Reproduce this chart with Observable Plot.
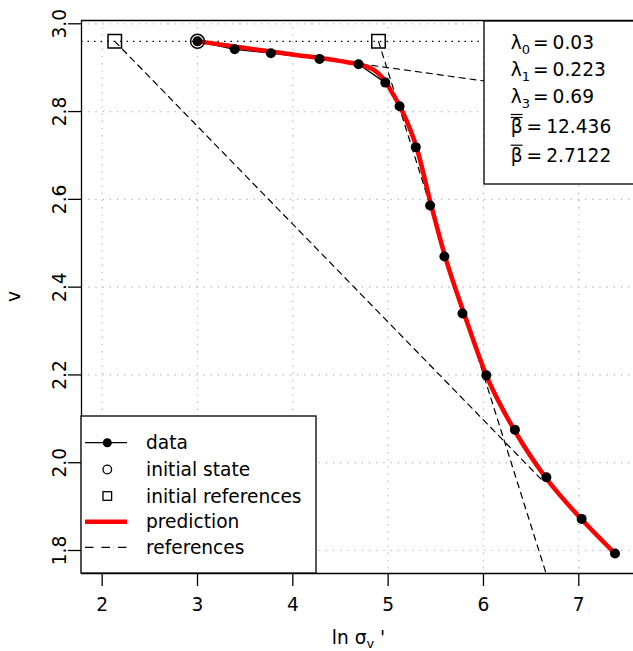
<!DOCTYPE html>
<html>
<head>
<meta charset="utf-8">
<script src="https://cdn.jsdelivr.net/npm/d3@7"></script>
<script src="https://cdn.jsdelivr.net/npm/@observablehq/plot@0.6"></script>
<style>
  html, body { margin: 0; padding: 0; background: #fff; }
  #chart svg { display: block; }
</style>
</head>
<body>
<div id="chart"></div>
<script>
// Measured compression curve: ln of effective vertical stress vs specific volume
const lnSigma = [3.00, 3.39, 3.77, 4.28, 4.69, 4.97, 5.12, 5.29, 5.44, 5.59, 5.78, 6.03, 6.33, 6.66, 7.03, 7.38];
const vData   = [2.960, 2.942, 2.933, 2.920, 2.908, 2.866, 2.812, 2.719, 2.586, 2.470, 2.340, 2.199, 2.075, 1.967, 1.872, 1.793];

// Initial state and the two initial reference points
const initX = [3.00];
const initV = [2.960];
const refPtX = [2.132, 4.899];
const refPtV = [2.960, 2.960];

// Model prediction
const predX = [3.00, 3.50, 4.00, 4.50, 4.70, 4.85, 4.95, 5.05, 5.15, 5.30, 5.45, 5.60, 5.80, 6.03, 6.33, 6.66, 7.03, 7.38];
const predV = [2.960, 2.945, 2.930, 2.915, 2.907, 2.895, 2.875, 2.840, 2.800, 2.717, 2.588, 2.468, 2.338, 2.199, 2.072, 1.964, 1.871, 1.793];

// Reference lines (end points)
const refLineA = {x: [2.132, 6.62], v: [2.960, 1.959]};
const refLineB = {x: [3.00, 7.60], v: [2.960, 2.822]};
const refLineC = {x: [4.899, 6.70], v: [2.960, 1.718]};

// Fitted parameters
const paramSym   = ["λ", "λ", "λ", "β", "β"];
const paramSub   = ["0", "1", "3", "", ""];
const paramBars  = [0, 0, 0, 2, 1];
const paramValue = ["0.03", "0.223", "0.69", "12.436", "2.7122"];

// Legend entries
const legendLabels = ["data", "initial state", "initial references", "prediction", "references"];

// Axis ticks
const xTicks = [2, 3, 4, 5, 6, 7];
const yTicks = [1.8, 2.0, 2.2, 2.4, 2.6, 2.8, 3.0];

(function () {
const FONT = "'DejaVu Sans', sans-serif";
const FS = 18.6;

const pts = lnSigma.map((x, i) => ({x, v: vData[i]}));
const pred = predX.map((x, i) => ({x, v: predV[i]}));
const refs = [refLineA, refLineB, refLineC].flatMap((r, k) => r.x.map((x, i) => ({k, x, v: r.v[i]})));
const init = initX.map((x, i) => ({x, v: initV[i]}));
const refPts = refPtX.map((x, i) => ({x, v: refPtV[i]}));

const xDomain = [1.783, 7.574];
const yDomain = [1.7476, 3.0075];

const chart = Plot.plot({
  width: 633,
  height: 651,
  marginLeft: 81,
  marginRight: 0,
  marginTop: 20,
  marginBottom: 78,
  style: {fontFamily: FONT, fontSize: FS + "px", background: "#fff", color: "#000"},
  x: {domain: xDomain},
  y: {domain: yDomain},
  marks: [
    Plot.gridX(xTicks, {stroke: "#b0b0b0", strokeOpacity: 1, strokeWidth: 1.2, strokeDasharray: "1.2 6"}),
    Plot.gridY(yTicks, {stroke: "#b0b0b0", strokeOpacity: 1, strokeWidth: 1.2, strokeDasharray: "1.2 6"}),
    Plot.ruleY(initV, {stroke: "#000", strokeWidth: 1.2, strokeDasharray: "1.5 5"}),
    Plot.line(refs, {x: "x", y: "v", z: "k", stroke: "#000", strokeWidth: 1.2, strokeDasharray: "6 5", clip: true}),
    Plot.line(pts, {x: "x", y: "v", stroke: "#000", strokeWidth: 1.3}),
    Plot.line(pred, {x: "x", y: "v", stroke: "#ff0000", strokeWidth: 4.5, curve: "monotone-x"}),
    Plot.dot(pts, {x: "x", y: "v", r: 5, fill: "#000"}),
    Plot.dot(init, {x: "x", y: "v", r: 7, stroke: "#000", strokeWidth: 1.5, fill: "none"}),
    Plot.dot(refPts, {x: "x", y: "v", symbol: "square", r: 7.6, stroke: "#000", strokeWidth: 1.5, fill: "none"}),
    Plot.ruleX([xDomain[0]], {stroke: "#000", strokeWidth: 1.3}),
    Plot.ruleY([yDomain[0], yDomain[1]], {stroke: "#000", strokeWidth: 1.3}),
    Plot.axisX(xTicks, {tickSize: 13, tickPadding: 11, strokeWidth: 1.3, fontSize: FS, label: null}),
    Plot.axisY(yTicks, {tickSize: 13, tickPadding: 3, tickRotate: -90, strokeWidth: 1.3, fontSize: FS,
                        tickFormat: d3.format(".1f"), label: null})
  ]
});

document.getElementById("chart").appendChild(chart);

const sx = chart.scale("x"), sy = chart.scale("y");
const fLeft = sx.range[0];
const fTop = sy.range[1], fBottom = sy.range[0];
const svg = d3.select(chart);

// Axis titles
const xt = svg.append("text").attr("font-family", FONT).attr("font-size", FS)
  .attr("text-anchor", "middle").attr("x", (fLeft + 636) / 2).attr("y", 644);
xt.append("tspan").text("ln σ");
xt.append("tspan").attr("font-size", FS * 0.7).attr("dy", 4).text("v");
xt.append("tspan").attr("dy", -4).text(" '");

svg.append("text").attr("font-family", FONT).attr("font-size", FS)
  .attr("text-anchor", "middle")
  .attr("transform", `translate(20,${(fTop + fBottom) / 2}) rotate(-90)`)
  .text("v");

// Parameter box (top right)
const pg = svg.append("g").attr("font-family", FONT).attr("font-size", FS).attr("text-anchor", "start");
pg.append("rect").attr("x", 484).attr("y", fTop + 1).attr("width", 160).attr("height", 163)
  .attr("fill", "#fff").attr("stroke", "#000").attr("stroke-width", 1.3);
const baselines = [49.3, 76, 102.7, 132.7, 161.7];
paramSym.forEach((s, i) => {
  const x0 = 510.7, yb = baselines[i];
  const t = pg.append("text").attr("x", x0).attr("y", yb);
  const symSpan = t.append("tspan").text(s);
  if (paramSub[i]) {
    t.append("tspan").attr("font-size", FS * 0.7).attr("dy", 5).text(paramSub[i]);
    t.append("tspan").attr("dy", -5).attr("dx", 3).text("=");
  } else {
    t.append("tspan").attr("dx", 4).text("=");
  }
  t.append("tspan").attr("dx", 4).text(paramValue[i]);
  const w = symSpan.node().getComputedTextLength();
  const barYs = paramBars[i] === 2 ? [yb - 18.2, yb - 15.2] : paramBars[i] === 1 ? [yb - 16.5] : [];
  barYs.forEach(by => {
    pg.append("line").attr("x1", x0).attr("x2", x0 + w).attr("y1", by).attr("y2", by)
      .attr("stroke", "#000").attr("stroke-width", 1.2);
  });
});

// Legend box (bottom left)
const lg = svg.append("g").attr("font-family", FONT).attr("font-size", FS).attr("text-anchor", "start");
lg.append("rect").attr("x", fLeft).attr("y", 416).attr("width", 235).attr("height", fBottom - 416)
  .attr("fill", "#fff").attr("stroke", "#000").attr("stroke-width", 1.3);
const rowY = [442.7, 469.5, 496, 521.7, 547.3];
const sxL = 85, exL = 127, cxL = 107.3;
lg.append("line").attr("x1", sxL).attr("x2", exL).attr("y1", rowY[0]).attr("y2", rowY[0]).attr("stroke", "#000").attr("stroke-width", 1.3);
lg.append("circle").attr("cx", cxL).attr("cy", rowY[0]).attr("r", 4.5).attr("fill", "#000");
lg.append("circle").attr("cx", cxL).attr("cy", rowY[1]).attr("r", 4.3).attr("fill", "none").attr("stroke", "#000").attr("stroke-width", 1.3);
lg.append("rect").attr("x", cxL - 4.3).attr("y", rowY[2] - 4.3).attr("width", 8.6).attr("height", 8.6).attr("fill", "none").attr("stroke", "#000").attr("stroke-width", 1.3);
lg.append("line").attr("x1", sxL).attr("x2", exL).attr("y1", rowY[3]).attr("y2", rowY[3]).attr("stroke", "#ff0000").attr("stroke-width", 4.5);
lg.append("line").attr("x1", sxL).attr("x2", exL).attr("y1", rowY[4]).attr("y2", rowY[4]).attr("stroke", "#000").attr("stroke-width", 1.2).attr("stroke-dasharray", "8.5 8");
legendLabels.forEach((s, i) => {
  lg.append("text").attr("x", 146).attr("y", rowY[i] + 6.6).text(s);
});
})();
</script>
</body>
</html>
